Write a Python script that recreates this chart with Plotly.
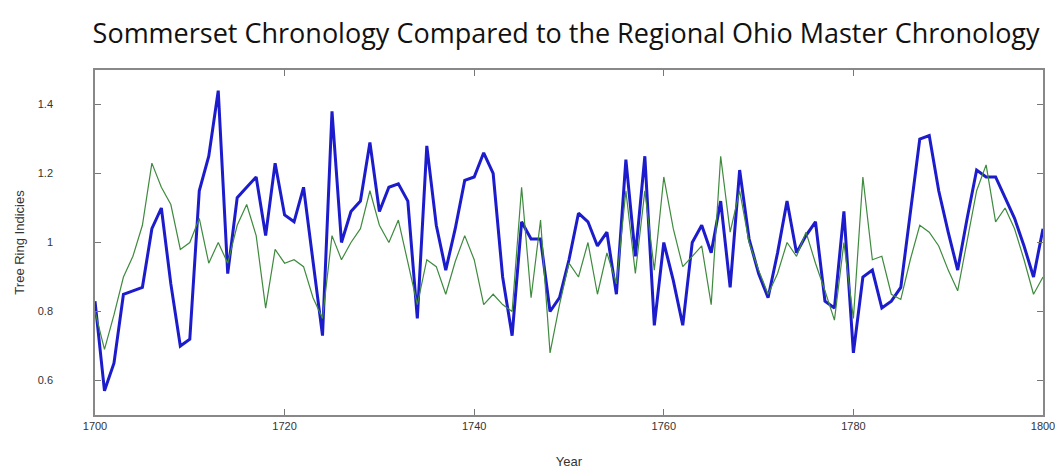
import plotly.graph_objects as go

years = list(range(1700, 1801))

sommerset = [
    0.83, 0.57, 0.65, 0.85, 0.86, 0.87, 1.04, 1.10, 0.88, 0.70,
    0.72, 1.15, 1.25, 1.44, 0.91, 1.13, 1.16, 1.19, 1.02, 1.23,
    1.08, 1.06, 1.16, 0.95, 0.73, 1.38, 1.00, 1.09, 1.12, 1.29,
    1.09, 1.16, 1.17, 1.12, 0.78, 1.28, 1.05, 0.92, 1.04, 1.18,
    1.19, 1.26, 1.20, 0.90, 0.73, 1.06, 1.01, 1.01, 0.80, 0.84,
    0.95, 1.085, 1.06, 0.99, 1.03, 0.85, 1.24, 0.96, 1.25, 0.76,
    1.00, 0.89, 0.76, 1.00, 1.05, 0.97, 1.12, 0.87, 1.21, 1.01,
    0.91, 0.84, 0.97, 1.12, 0.97, 1.02, 1.06, 0.83, 0.81, 1.09,
    0.68, 0.90, 0.92, 0.81, 0.83, 0.87, 1.09, 1.30, 1.31, 1.15,
    1.03, 0.92, 1.07, 1.21, 1.19, 1.19, 1.13, 1.07, 0.99, 0.90,
    1.04,
]

ohio_master = [
    0.80, 0.69, 0.79, 0.90, 0.96, 1.05, 1.23, 1.16, 1.11, 0.98,
    1.00, 1.07, 0.94, 1.00, 0.94, 1.05, 1.11, 1.02, 0.81, 0.98,
    0.94, 0.95, 0.93, 0.84, 0.78, 1.02, 0.95, 1.00, 1.04, 1.15,
    1.05, 1.00, 1.065, 0.94, 0.82, 0.95, 0.93, 0.85, 0.945, 1.02,
    0.95, 0.82, 0.85, 0.82, 0.80, 1.16, 0.84, 1.065, 0.68, 0.82,
    0.94, 0.90, 1.00, 0.85, 0.97, 0.88, 1.15, 0.91, 1.15, 0.92,
    1.19, 1.04, 0.93, 0.96, 0.99, 0.82, 1.25, 1.03, 1.15, 1.00,
    0.92, 0.85, 0.91, 1.00, 0.96, 1.03, 0.94, 0.86, 0.775, 1.00,
    0.78, 1.19, 0.95, 0.96, 0.85, 0.835, 0.95, 1.05, 1.03, 0.99,
    0.92, 0.86, 1.00, 1.15, 1.225, 1.06, 1.10, 1.04, 0.95, 0.85,
    0.90,
]

fig = go.Figure()
fig.add_trace(go.Scatter(x=years, y=sommerset, mode="lines",
                         line=dict(color="#1c1ccc", width=3), name="Sommerset"))
fig.add_trace(go.Scatter(x=years, y=ohio_master, mode="lines",
                         line=dict(color="#3f8a3f", width=1.2), name="Ohio Master"))

narrow = "Liberation Sans Narrow, Arial Narrow, Liberation Sans, sans-serif"
axis_font = dict(family=narrow, size=11, color="#333333")

fig.update_layout(
    width=1063, height=473,
    margin=dict(l=87, r=28, t=62, b=66),
    paper_bgcolor="white", plot_bgcolor="white",
    showlegend=False,
    title=dict(text="Sommerset Chronology Compared to the Regional Ohio Master Chronology",
               x=0.525, xanchor="center", y=0.945, yanchor="middle",
               font=dict(family="Open Sans, sans-serif", size=27, color="#111111")),
)

fig.update_xaxes(
    range=[1700, 1800], tickvals=[1700, 1720, 1740, 1760, 1780, 1800],
    ticks="inside", ticklen=6, tickcolor="#777777",
    showline=True, linecolor="#888888", linewidth=1.5, mirror="ticks",
    showgrid=False, zeroline=False, tickfont=axis_font,
    title=dict(text="Year", font=dict(family=narrow, size=13, color="#333333"), standoff=26),
)
fig.update_yaxes(
    range=[0.5, 1.5], tickvals=[0.6, 0.8, 1.0, 1.2, 1.4],
    ticktext=["0.6", "0.8", "1", "1.2", "1.4"],
    ticks="inside", ticklen=6, tickcolor="#777777", ticklabelstandoff=38,
    showline=True, linecolor="#888888", linewidth=1.5, mirror="ticks",
    showgrid=False, zeroline=False, tickfont=axis_font,
    title=dict(text="Tree Ring Indicies", font=dict(family=narrow, size=13, color="#333333"), standoff=10),
)

fig.write_html("out.html")
